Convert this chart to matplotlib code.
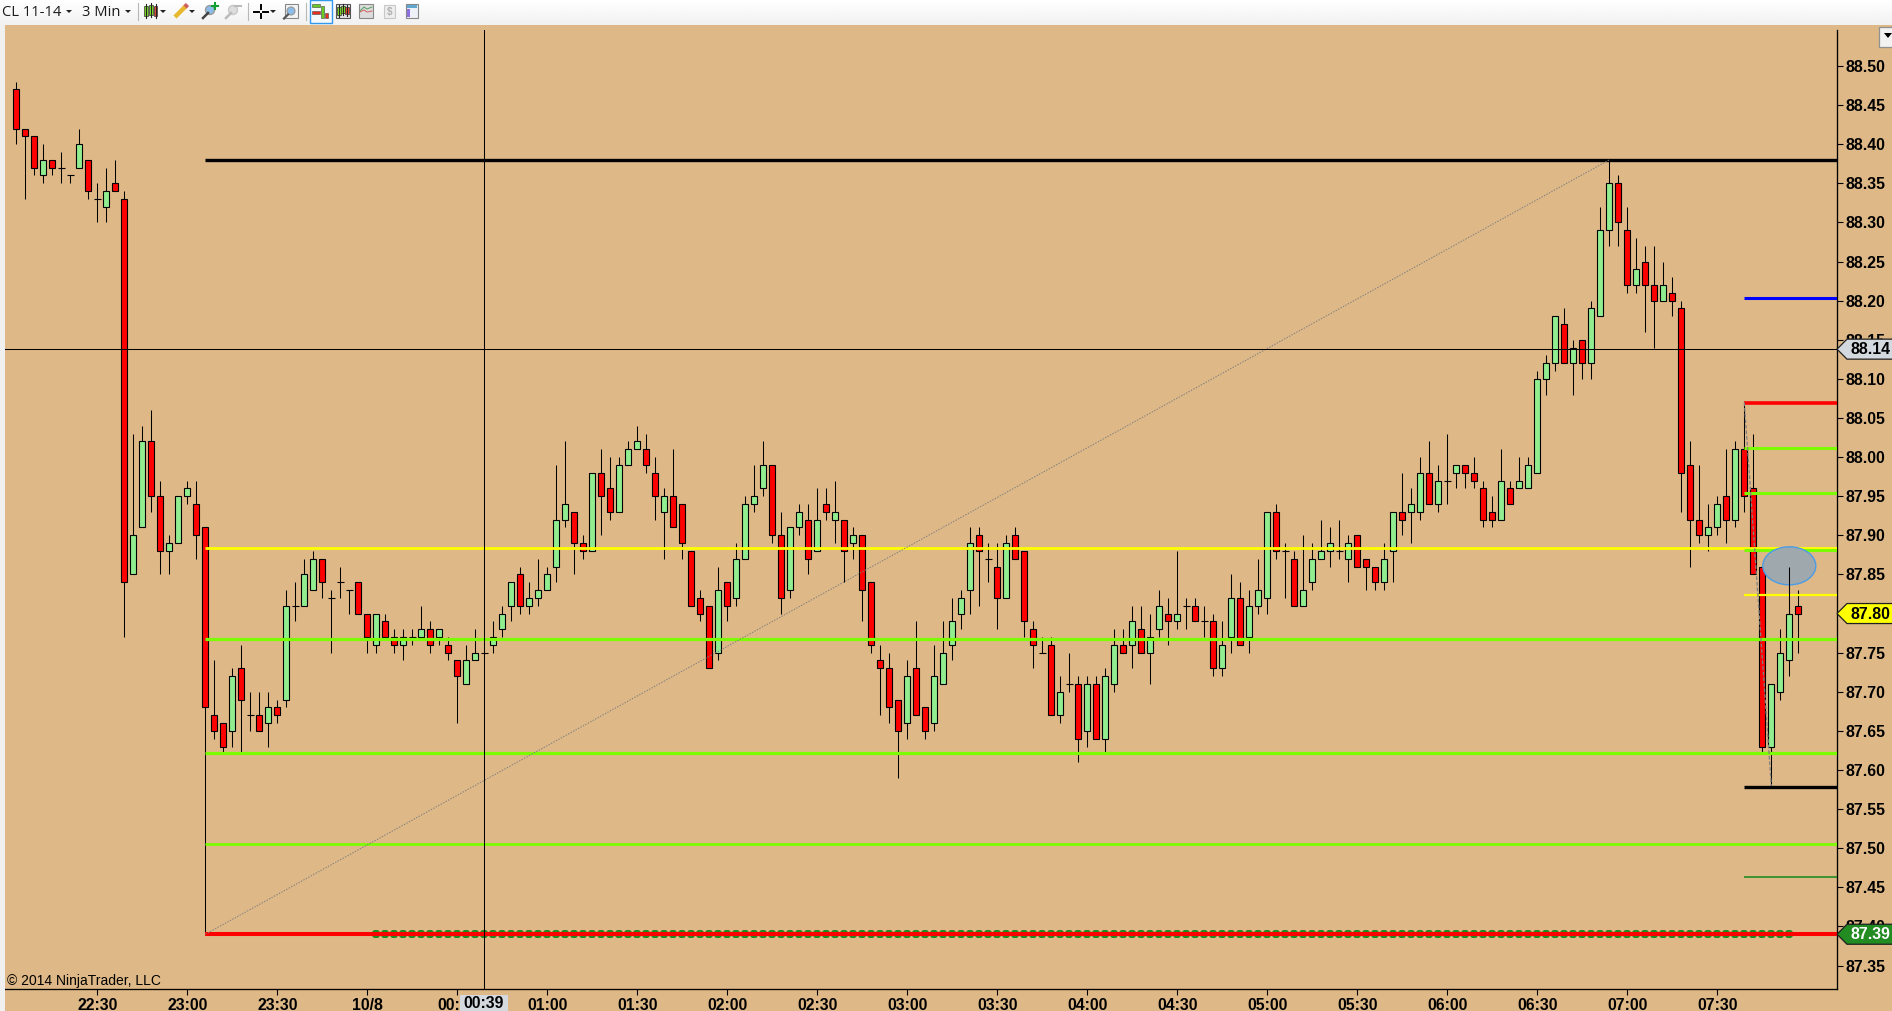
#!/usr/bin/env python3
"""NinjaTrader style CL 11-14 3 minute candlestick chart with drawn levels."""

import numpy as np
import matplotlib

matplotlib.use("Agg")
import matplotlib.pyplot as plt
from matplotlib.patches import Ellipse, Polygon, Rectangle

W, H = 1892, 1011
CHART_L, CHART_R, CHART_T, CHART_B = 5, 1837, 30, 989
YMIN, YMAX = 87.320, 88.546
XMIN, XMAX = -1.2556, 202.3

OPEN = [
    88.47, 88.42, 88.41, 88.36, 88.38, 88.37, 88.36, 88.37, 88.38, 88.33,
    88.32, 88.35, 88.33, 87.85, 87.91, 88.02, 87.95, 87.88, 87.89, 87.95,
    87.94, 87.91, 87.67, 87.66, 87.65, 87.73, 87.67, 87.67, 87.66, 87.68,
    87.69, 87.81, 87.81, 87.83, 87.87, 87.82, 87.84, 87.83, 87.84, 87.80,
    87.76, 87.79, 87.77, 87.76, 87.77, 87.77, 87.78, 87.77, 87.76, 87.74,
    87.71, 87.74, 87.75, 87.76, 87.78, 87.81, 87.85, 87.81, 87.82, 87.83,
    87.86, 87.92, 87.93, 87.89, 87.88, 87.98, 87.96, 87.93, 87.99, 88.01,
    88.01, 87.98, 87.93, 87.95, 87.94, 87.88, 87.82, 87.81, 87.75, 87.84,
    87.82, 87.87, 87.94, 87.96, 87.99, 87.90, 87.83, 87.91, 87.92, 87.88,
    87.94, 87.92, 87.92, 87.89, 87.90, 87.84, 87.74, 87.73, 87.69, 87.66,
    87.73, 87.68, 87.66, 87.71, 87.76, 87.80, 87.83, 87.90, 87.87, 87.86,
    87.82, 87.90, 87.88, 87.78, 87.75, 87.76, 87.67, 87.71, 87.71, 87.65,
    87.71, 87.64, 87.71, 87.76, 87.76, 87.78, 87.75, 87.78, 87.80, 87.79,
    87.81, 87.81, 87.79, 87.79, 87.73, 87.77, 87.82, 87.77, 87.81, 87.82,
    87.93, 87.88, 87.87, 87.81, 87.84, 87.87, 87.88, 87.88, 87.87, 87.90,
    87.87, 87.86, 87.84, 87.88, 87.93, 87.93, 87.93, 87.98, 87.94, 87.97,
    87.98, 87.99, 87.98, 87.96, 87.93, 87.92, 87.96, 87.96, 87.96, 87.98,
    88.10, 88.12, 88.17, 88.12, 88.15, 88.12, 88.18, 88.29, 88.35, 88.29,
    88.22, 88.25, 88.22, 88.20, 88.21, 88.19, 87.99, 87.92, 87.90, 87.91,
    87.95, 87.92, 88.01, 87.96, 87.86, 87.63, 87.70, 87.74, 87.81,
]
CLOSE = [
    88.42, 88.41, 88.37, 88.38, 88.37, 88.37, 88.36, 88.40, 88.34, 88.33,
    88.34, 88.34, 87.84, 87.90, 88.02, 87.95, 87.88, 87.89, 87.95, 87.96,
    87.90, 87.68, 87.65, 87.63, 87.72, 87.69, 87.67, 87.65, 87.68, 87.67,
    87.81, 87.81, 87.85, 87.87, 87.84, 87.82, 87.84, 87.83, 87.80, 87.77,
    87.80, 87.77, 87.76, 87.77, 87.77, 87.78, 87.76, 87.78, 87.75, 87.72,
    87.74, 87.75, 87.75, 87.77, 87.80, 87.84, 87.81, 87.82, 87.83, 87.85,
    87.92, 87.94, 87.89, 87.88, 87.98, 87.95, 87.93, 87.99, 88.01, 88.02,
    87.99, 87.95, 87.95, 87.91, 87.89, 87.81, 87.80, 87.73, 87.83, 87.81,
    87.87, 87.94, 87.95, 87.99, 87.90, 87.82, 87.91, 87.93, 87.87, 87.92,
    87.93, 87.93, 87.88, 87.90, 87.83, 87.76, 87.73, 87.68, 87.65, 87.72,
    87.67, 87.65, 87.72, 87.75, 87.79, 87.82, 87.89, 87.88, 87.87, 87.82,
    87.89, 87.87, 87.79, 87.76, 87.75, 87.67, 87.70, 87.71, 87.64, 87.71,
    87.64, 87.72, 87.76, 87.75, 87.79, 87.75, 87.77, 87.81, 87.79, 87.80,
    87.81, 87.79, 87.79, 87.73, 87.76, 87.82, 87.76, 87.81, 87.83, 87.93,
    87.88, 87.88, 87.81, 87.83, 87.87, 87.88, 87.89, 87.88, 87.89, 87.86,
    87.86, 87.84, 87.87, 87.93, 87.92, 87.94, 87.98, 87.94, 87.97, 87.97,
    87.99, 87.98, 87.97, 87.92, 87.92, 87.97, 87.94, 87.97, 87.99, 88.10,
    88.12, 88.18, 88.12, 88.14, 88.12, 88.19, 88.29, 88.35, 88.30, 88.22,
    88.24, 88.22, 88.20, 88.22, 88.20, 87.98, 87.92, 87.90, 87.91, 87.94,
    87.92, 88.01, 87.95, 87.85, 87.63, 87.71, 87.75, 87.80, 87.80,
]
HIGH = [
    88.48, 88.42, 88.41, 88.40, 88.38, 88.39, 88.36, 88.42, 88.38, 88.35,
    88.37, 88.38, 88.34, 88.03, 88.04, 88.06, 87.97, 87.90, 87.95, 87.97,
    87.97, 87.91, 87.74, 87.66, 87.73, 87.76, 87.70, 87.70, 87.70, 87.69,
    87.83, 87.84, 87.87, 87.88, 87.87, 87.83, 87.86, 87.83, 87.84, 87.80,
    87.80, 87.80, 87.78, 87.78, 87.78, 87.81, 87.79, 87.78, 87.77, 87.74,
    87.76, 87.78, 87.75, 87.79, 87.81, 87.84, 87.86, 87.84, 87.87, 87.86,
    87.99, 88.02, 87.93, 87.90, 87.98, 88.01, 88.00, 88.00, 88.02, 88.04,
    88.03, 88.00, 87.96, 88.01, 87.94, 87.88, 87.83, 87.81, 87.86, 87.84,
    87.89, 87.95, 87.99, 88.02, 87.99, 87.93, 87.91, 87.94, 87.94, 87.96,
    87.96, 87.97, 87.92, 87.91, 87.90, 87.84, 87.76, 87.75, 87.69, 87.74,
    87.79, 87.68, 87.76, 87.79, 87.82, 87.83, 87.91, 87.91, 87.89, 87.89,
    87.90, 87.91, 87.88, 87.79, 87.77, 87.77, 87.72, 87.75, 87.72, 87.72,
    87.72, 87.73, 87.78, 87.78, 87.81, 87.81, 87.80, 87.83, 87.82, 87.88,
    87.82, 87.82, 87.81, 87.80, 87.79, 87.85, 87.84, 87.83, 87.87, 87.93,
    87.94, 87.89, 87.88, 87.90, 87.89, 87.92, 87.91, 87.92, 87.90, 87.90,
    87.87, 87.86, 87.89, 87.93, 87.98, 87.96, 88.00, 88.02, 87.99, 88.03,
    87.99, 87.99, 88.00, 87.97, 87.95, 88.01, 87.97, 88.00, 88.00, 88.11,
    88.13, 88.18, 88.19, 88.15, 88.15, 88.20, 88.32, 88.38, 88.36, 88.32,
    88.28, 88.27, 88.27, 88.25, 88.23, 88.20, 88.02, 87.99, 87.94, 87.95,
    88.01, 88.02, 88.07, 88.03, 87.86, 87.71, 87.78, 87.86, 87.83,
]
LOW = [
    88.40, 88.33, 88.36, 88.35, 88.36, 88.35, 88.35, 88.37, 88.33, 88.30,
    88.30, 88.34, 87.77, 87.85, 87.91, 87.93, 87.85, 87.85, 87.89, 87.94,
    87.87, 87.39, 87.64, 87.62, 87.63, 87.62, 87.65, 87.65, 87.63, 87.66,
    87.68, 87.79, 87.81, 87.83, 87.82, 87.75, 87.82, 87.80, 87.80, 87.75,
    87.75, 87.77, 87.75, 87.74, 87.76, 87.77, 87.75, 87.76, 87.74, 87.66,
    87.71, 87.74, 87.75, 87.75, 87.77, 87.79, 87.80, 87.80, 87.81, 87.83,
    87.84, 87.91, 87.85, 87.87, 87.88, 87.90, 87.92, 87.93, 87.99, 88.01,
    87.98, 87.92, 87.87, 87.91, 87.87, 87.81, 87.79, 87.73, 87.74, 87.79,
    87.81, 87.87, 87.93, 87.95, 87.89, 87.80, 87.82, 87.90, 87.85, 87.88,
    87.92, 87.89, 87.84, 87.87, 87.79, 87.75, 87.67, 87.66, 87.59, 87.64,
    87.67, 87.64, 87.65, 87.71, 87.74, 87.78, 87.80, 87.81, 87.84, 87.78,
    87.82, 87.87, 87.77, 87.73, 87.75, 87.67, 87.66, 87.70, 87.61, 87.63,
    87.64, 87.62, 87.70, 87.75, 87.73, 87.75, 87.71, 87.77, 87.76, 87.78,
    87.78, 87.79, 87.77, 87.72, 87.72, 87.75, 87.76, 87.75, 87.80, 87.80,
    87.87, 87.82, 87.81, 87.81, 87.83, 87.87, 87.86, 87.87, 87.84, 87.86,
    87.83, 87.83, 87.83, 87.84, 87.90, 87.89, 87.92, 87.94, 87.93, 87.94,
    87.96, 87.96, 87.96, 87.91, 87.91, 87.92, 87.94, 87.96, 87.96, 87.98,
    88.08, 88.11, 88.12, 88.08, 88.10, 88.10, 88.18, 88.27, 88.27, 88.21,
    88.21, 88.16, 88.14, 88.20, 88.18, 87.93, 87.86, 87.89, 87.88, 87.90,
    87.89, 87.91, 87.93, 87.85, 87.62, 87.58, 87.69, 87.72, 87.75,
]

Y_TICKS = [
    87.35, 87.40, 87.45, 87.50, 87.55, 87.60, 87.65, 87.70, 87.75, 87.80, 87.85, 87.90,
    87.95, 88.00, 88.05, 88.10, 88.15, 88.20, 88.25, 88.30, 88.35, 88.40, 88.45, 88.50,
]
X_TICK_BARS = [9, 19, 29, 39, 49, 59, 69, 79, 89, 99, 109, 119, 129, 139, 149, 159, 169, 179, 189]
X_TICK_LABELS = [
    "22:30", "23:00", "23:30", "10/8", "00:30", "01:00", "01:30", "02:00", "02:30", "03:00",
    "03:30", "04:00", "04:30", "05:00", "05:30", "06:00", "06:30", "07:00", "07:30",
]

# price, colour, line width in points
LONG_LEVELS = [
    (88.38, "black", 2.4),
    (87.884, "#ffff00", 2.0),
    (87.767, "#7cfc00", 2.3),
    (87.622, "#7cfc00", 2.3),
    (87.505, "#7cfc00", 2.0),
    (87.39, "#ff0000", 2.9),
]
SHORT_LEVELS = [
    (88.203, "#0000ff", 2.2),
    (88.069, "#ff0000", 2.6),
    (88.011, "#7cfc00", 2.2),
    (87.954, "#7cfc00", 2.2),
    (87.881, "#7cfc00", 2.2),
    (87.824, "#ffff00", 1.6),
    (87.578, "black", 2.4),
    (87.463, "#228b22", 1.2),
]
LONG_START_BAR = 21
SHORT_START_BAR = 192.0
DOT_BARS = list(range(40, 198))
DOT_PRICE = 87.39

SWING_X = [21, 177]
SWING_Y = [87.39, 88.38]
DROP_X = [192, 195]
DROP_Y = [88.07, 87.58]

CROSS_BAR = 52
CROSS_PRICE = 88.138

BG = "#deb887"
FONT = "Liberation Sans"


def price_to_px(price):
    return CHART_T + (YMAX - price) / (YMAX - YMIN) * (CHART_B - CHART_T)


def price_flag(ov, price, text, face, text_color):
    y = price_to_px(price)
    pts = [(1837, y), (1847, y - 10), (1893, y - 10), (1893, y + 10), (1847, y + 10)]
    ov.add_patch(Polygon(pts, closed=True, facecolor=face, edgecolor="#202020", linewidth=0.9))
    ov.text(1850, y + 0.5, text, ha="left", va="center", fontsize=11.4, fontweight="bold",
            family=FONT, color=text_color)


def mini_candle(ov, x, top, bottom, color):
    ov.plot([x, x], [top - 2, bottom + 2], color="#222222", lw=0.8)
    ov.add_patch(Rectangle((x - 1.7, top), 3.4, bottom - top, facecolor=color, edgecolor="#333333", linewidth=0.5))


def dropdown(ov, x):
    ov.add_patch(Polygon([(x - 3, 10), (x + 3, 10), (x, 13)], closed=True, facecolor="#222222", edgecolor="none"))


def draw_toolbar(ov):
    grad = np.linspace(1.0, 0.945, 32).reshape(-1, 1)
    ov.imshow(grad, extent=(0, W, 25, 0), cmap="gray", vmin=0, vmax=1, aspect="auto", zorder=0)
    ov.set_xlim(0, W)
    ov.set_ylim(H, 0)
    ov.add_patch(Rectangle((0, 25), 5, H - 25, facecolor="#f0f0f0", edgecolor="none"))

    ov.text(2, 12.5, "CL 11-14", ha="left", va="center", fontsize=10.6, family="Open Sans", color="#1a1a1a")
    ov.text(82, 12.5, "3 Min", ha="left", va="center", fontsize=10.6, family="Open Sans", color="#1a1a1a")
    for x in [69, 128, 163, 192, 273]:
        dropdown(ov, x)
    for x in [138, 248, 306]:
        ov.plot([x, x], [3, 20], color="#b8b8b8", lw=0.8)

    # chart style button
    for x, top, bottom, color in [(146, 6, 16, "#7cdc20"), (151, 5, 15, "#7cdc20"), (155.5, 6, 16, "#f04030")]:
        mini_candle(ov, x, top, bottom, color)
    # pencil
    ov.plot([175, 186], [17, 6], color="#e8b830", lw=3.2, solid_capstyle="butt")
    ov.plot([185, 187.5], [7, 4.5], color="#d06060", lw=3.2, solid_capstyle="butt")
    # zoom in and zoom out
    for cx, ring, fill, handle in [(210, "#9a9a9a", "#8cbce8", "#444444"), (233, "#c8c8c8", "#dddddd", "#bbbbbb")]:
        ov.plot([cx - 7, cx - 2], [18, 13], color=handle, lw=1.8)
        ov.add_patch(Ellipse((cx, 10), 9, 9, facecolor=fill, edgecolor=ring, linewidth=1.0))
    ov.plot([212, 218], [6, 6], color="#10a030", lw=1.5)
    ov.plot([215, 215], [3, 9], color="#10a030", lw=1.5)
    ov.plot([235, 241], [6, 6], color="#bbbbbb", lw=1.5)
    # crosshair
    ov.plot([254, 259], [11.5, 11.5], color="black", lw=1.4)
    ov.plot([263, 268], [11.5, 11.5], color="black", lw=1.4)
    ov.plot([261, 261], [5, 9], color="black", lw=1.4)
    ov.plot([261, 261], [14, 18], color="black", lw=1.4)
    # magnifier in a frame
    ov.add_patch(Rectangle((285, 4), 13, 14, facecolor="#f4f4f4", edgecolor="#888888", linewidth=0.8))
    ov.plot([284, 288], [18.5, 14.5], color="#555555", lw=1.6)
    ov.add_patch(Ellipse((291, 11), 8, 8, facecolor="#8cbce8", edgecolor="#999999", linewidth=0.8))
    # selected button with sorted bars
    ov.add_patch(Rectangle((309.5, 0), 22, 22.5, facecolor="#f6f9fc", edgecolor="#3399ee", linewidth=1.0))
    ov.add_patch(Rectangle((312, 4), 8, 3, facecolor="#66cc22", edgecolor="#444444", linewidth=0.4))
    ov.add_patch(Rectangle((312, 11), 8, 3, facecolor="#e83020", edgecolor="#444444", linewidth=0.4))
    ov.add_patch(Rectangle((321, 6), 2.5, 12, facecolor="#66cc22", edgecolor="#444444", linewidth=0.4))
    ov.add_patch(Rectangle((325, 13), 2.5, 5, facecolor="#e83020", edgecolor="#444444", linewidth=0.4))
    # remaining buttons
    ov.add_patch(Rectangle((336, 4), 14, 14, facecolor="#e4e4e4", edgecolor="#555555", linewidth=0.8))
    for x, top, bottom, color in [(339, 7, 15, "#7cdc20"), (343, 6, 13, "#7cdc20"), (347, 7, 14, "#f04030")]:
        mini_candle(ov, x, top, bottom, color)
    ov.add_patch(Rectangle((359, 4), 14, 14, facecolor="#dcdcdc", edgecolor="#888888", linewidth=0.8))
    ov.plot([360, 364, 367, 372], [11, 7, 9, 7], color="#50a060", lw=0.7)
    ov.plot([360, 364, 367, 372], [12, 10, 12, 11], color="#d06060", lw=0.7)
    ov.add_patch(Rectangle((384, 5), 11, 13, facecolor="#eeeeee", edgecolor="#c8c8c8", linewidth=0.8))
    ov.text(389.5, 11.5, "$", ha="center", va="center", fontsize=7, fontweight="bold", family=FONT, color="#b0b0b0")
    ov.add_patch(Rectangle((406, 4), 12, 14, facecolor="#eef2f8", edgecolor="#888888", linewidth=0.8))
    ov.add_patch(Rectangle((407, 5), 10, 2.5, facecolor="#60a8d0", edgecolor="none"))
    ov.add_patch(Rectangle((407, 9), 2.5, 8, facecolor="#9070e0", edgecolor="none"))

    # small button at the top right of the chart
    ov.add_patch(Rectangle((1879, 26.5), 20, 20.5, facecolor="#f2f2f2", edgecolor="#909090", linewidth=0.9))
    ov.add_patch(Polygon([(1884, 33), (1892, 33), (1888, 38)], closed=True, facecolor="black", edgecolor="none"))


def main():
    opens = np.array(OPEN)
    closes = np.array(CLOSE)
    highs = np.array(HIGH)
    lows = np.array(LOW)
    bars = np.arange(len(opens))

    plt.rcParams["font.family"] = FONT
    fig = plt.figure(figsize=(W / 100, H / 100), dpi=100)
    fig.patch.set_facecolor(BG)

    ax = fig.add_axes([CHART_L / W, 1 - CHART_B / H, (CHART_R - CHART_L) / W, (CHART_B - CHART_T) / H])
    ax.set_facecolor("none")
    ax.set_xlim(XMIN, XMAX)
    ax.set_ylim(YMIN, YMAX)
    for side in ["top", "left"]:
        ax.spines[side].set_visible(False)
    for side in ["right", "bottom"]:
        ax.spines[side].set_linewidth(0.95)

    ax.yaxis.tick_right()
    ax.set_yticks(Y_TICKS, [f"{v:.2f}" for v in Y_TICKS])
    ax.set_xticks(X_TICK_BARS, X_TICK_LABELS)
    ax.tick_params(axis="y", length=4.4, width=0.8, pad=1.6, labelsize=11.4)
    ax.tick_params(axis="x", length=4.4, width=0.8, pad=2.0, labelsize=11.4)
    for label in ax.get_xticklabels() + ax.get_yticklabels():
        label.set_fontweight("bold")

    ax.vlines(bars, lows, highs, color="black", linewidth=0.75, zorder=2)

    up = closes > opens
    down = closes < opens
    flat = closes == opens
    body_w = 6.0 / 9
    ax.bar(bars[up], (closes - opens)[up], bottom=opens[up], width=body_w, color="#90ee90",
           edgecolor="black", linewidth=0.8, zorder=3)
    ax.bar(bars[down], (opens - closes)[down], bottom=closes[down], width=body_w, color="#ff0000",
           edgecolor="black", linewidth=0.8, zorder=3)
    ax.hlines(opens[flat], bars[flat] - 0.39, bars[flat] + 0.39, color="black", linewidth=0.8, zorder=3)

    ax.plot(DOT_BARS, [DOT_PRICE] * len(DOT_BARS), linestyle="none", marker="8", markersize=6.4,
            color="#228b22", markeredgewidth=0, zorder=4)

    for price, color, lw in LONG_LEVELS:
        ax.hlines(price, LONG_START_BAR, XMAX, color=color, linewidth=lw, zorder=5)
    for price, color, lw in SHORT_LEVELS:
        ax.hlines(price, SHORT_START_BAR, XMAX, color=color, linewidth=lw, zorder=5)

    ax.plot(SWING_X, SWING_Y, color="#808080", lw=0.72, linestyle=(0, (1.4, 1.4)), zorder=5)
    ax.plot(DROP_X, DROP_Y, color="#808080", lw=0.9, linestyle=(0, (3, 1.5)), zorder=5)

    ax.add_patch(Ellipse((197, 87.861), 53 / 9, 38 / 782, facecolor="#9fa9ad", edgecolor="#4a9ce6",
                         linewidth=1.0, zorder=6))
    ax.vlines([197], [87.80], [HIGH[197]], color="black", linewidth=0.75, zorder=7)

    ax.axvline(CROSS_BAR, color="black", linewidth=0.75, zorder=8)
    ax.axhline(CROSS_PRICE, color="black", linewidth=0.75, zorder=8)

    ov = fig.add_axes([0, 0, 1, 1])
    ov.patch.set_visible(False)
    ov.axis("off")
    draw_toolbar(ov)

    price_flag(ov, 88.138, "88.14", "#d4d9df", "black")
    price_flag(ov, 87.80, "87.80", "#ffff00", "black")
    price_flag(ov, 87.39, "87.39", "#228b22", "white")

    ov.text(7, 981, "\u00a9 2014 NinjaTrader, LLC", ha="left", va="center", fontsize=10.0, family=FONT, color="black")

    ov.add_patch(Rectangle((460, 995), 48, 16, facecolor="#d3d9df", edgecolor="none"))
    ov.text(484, 1004, "00:39", ha="center", va="center", fontsize=11.4, fontweight="bold", family=FONT, color="black")

    fig.savefig("out.png", dpi=100, facecolor=fig.get_facecolor())
    plt.close(fig)


if __name__ == "__main__":
    main()
